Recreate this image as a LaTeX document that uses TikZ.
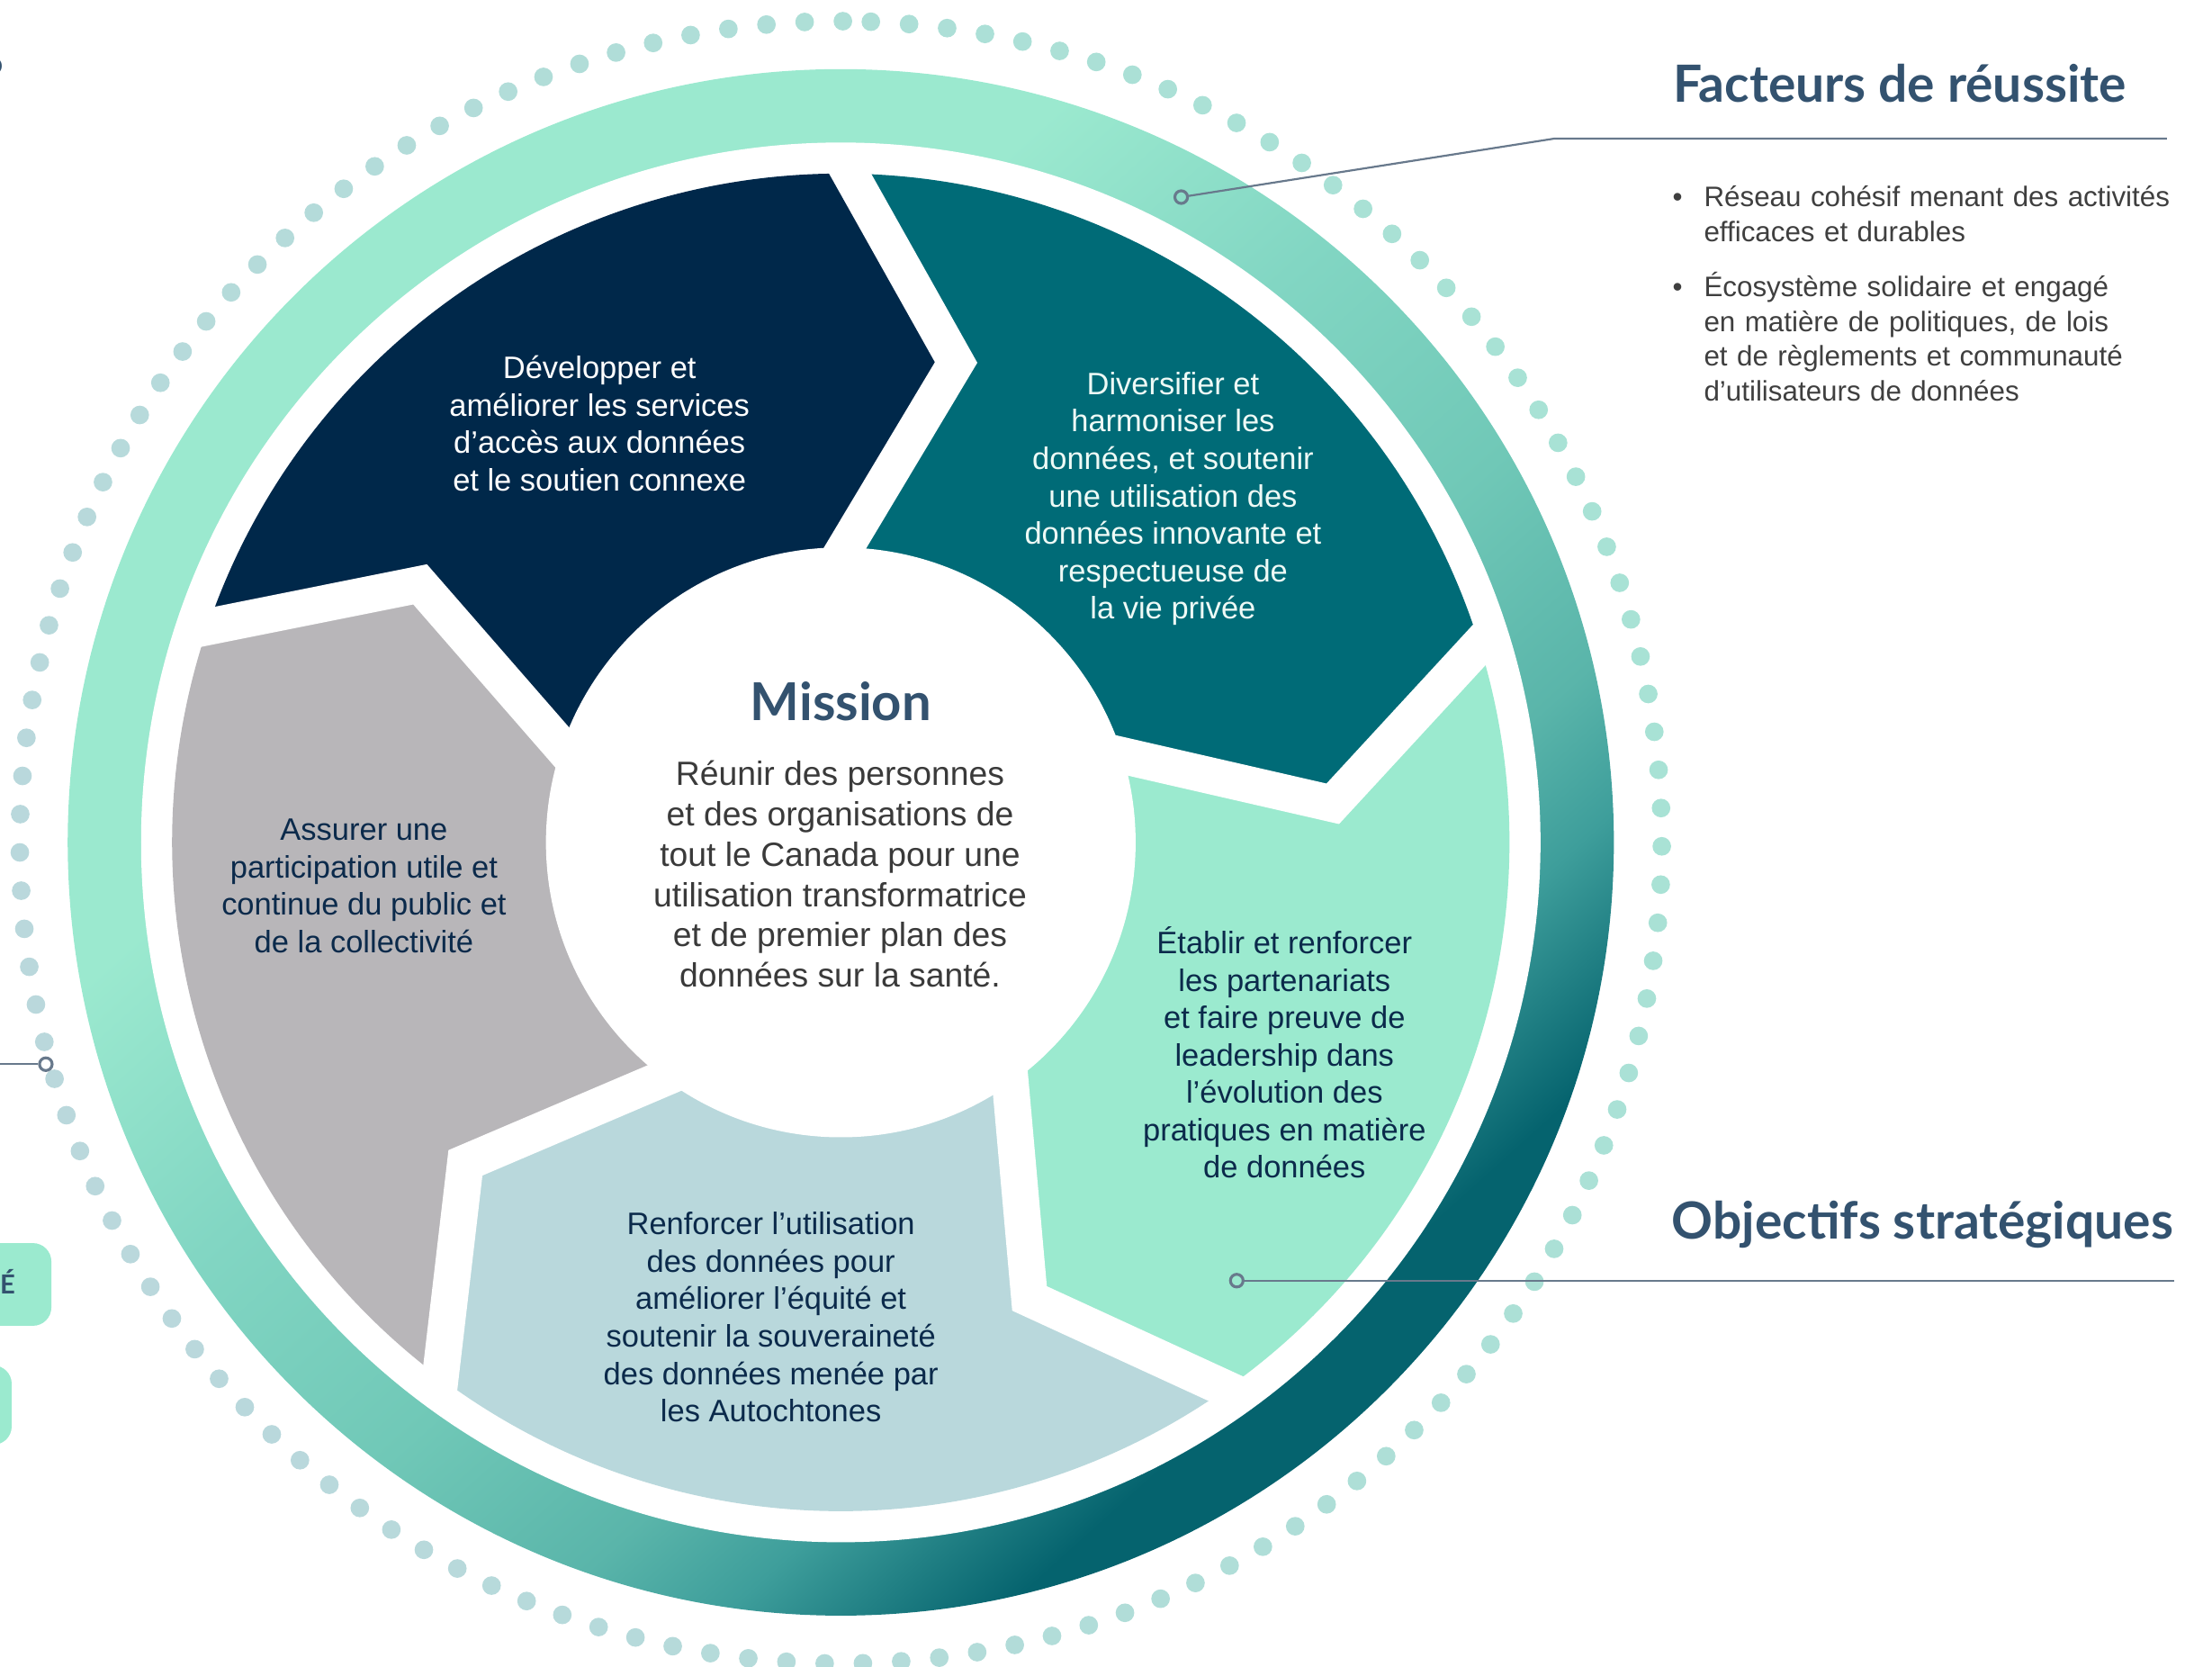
\documentclass[tikz,border=0pt]{standalone}
\usepackage{fontspec}
\setmainfont{Liberation Sans}
\newfontfamily\headfont{Lato}
\usetikzlibrary{calc}

\definecolor{navyseg}{HTML}{00284A}
\definecolor{tealseg}{HTML}{006B77}
\definecolor{mintseg}{HTML}{9BEACF}
\definecolor{blueseg}{HTML}{B9D8DC}
\definecolor{greyseg}{HTML}{B8B6B9}
\definecolor{headcol}{HTML}{33526F}
\definecolor{darktxt}{HTML}{0B2A4B}
\definecolor{paletxt}{HTML}{EEFAF6}
\definecolor{misstxt}{HTML}{3A3A3A}
\definecolor{bulltxt}{HTML}{3F3F3F}
\definecolor{leadcol}{HTML}{68798C}
\definecolor{dotA}{HTML}{BAD8DC}
\definecolor{dotB}{HTML}{A8E2D5}
\definecolor{ringA}{HTML}{05636E}
\definecolor{ringB}{HTML}{3E9E9B}
\definecolor{ringC}{HTML}{5AB5AA}
\definecolor{ringD}{HTML}{70C8B7}
\definecolor{ringE}{HTML}{82D6C3}
\definecolor{ringF}{HTML}{9BE9CF}

\pgfdeclareverticalshading{ringshade}{100bp}{color(0bp)=(ringA); color(28bp)=(ringA);
  color(34bp)=(ringB); color(38bp)=(ringC); color(45bp)=(ringD);
  color(54bp)=(ringE); color(63bp)=(ringF); color(100bp)=(ringF)}

\begin{document}
\begin{tikzpicture}[x=1pt,y=1pt]
\tikzset{segtext/.style = {align=center, inner sep=0pt,
	font=\fontsize{22}{26.5}\selectfont}}
\tikzset{heading/.style = {anchor=base west, inner sep=0pt, text=headcol,
	font=\headfont\bfseries\fontsize{36.3}{44}\selectfont}}
\tikzset{bullettext/.style = {anchor=base west, inner sep=0pt, text=bulltxt,
	text width=350pt, align=left, font=\fontsize{20}{24.5}\selectfont}}
\tikzset{gapline/.style = {draw=white, line width=26pt, line join=miter}}
\tikzset{leadline/.style = {draw=leadcol, line width=1.4pt}}
\tikzset{leadcircle/.style = {shape=circle, draw=leadcol, line width=2pt,
	minimum size=9pt, inner sep=0pt}}
\useasboundingbox (-596,-584) rectangle (972,597);

% dotted circle
\foreach \k in {0,...,134}{
	\pgfmathsetmacro\ang{87.9-2.672*\k}
	\pgfmathsetmacro\mixv{50+50*cos(\ang-20)}
	\fill[dotB!\mixv!dotA] (\ang:582) circle[radius=6.6];
}

% ring
\shade[shading=ringshade, shading angle=42] (0,0) circle[radius=548];
\fill[white] (0,0) circle[radius=496];

% segments
\foreach \a/\col in {89.2/navyseg, 17.2/tealseg, -54.8/mintseg,
		-126.8/blueseg, -198.8/greyseg}{
	\pgfmathsetmacro\b{\a+72}
	\fill[\col] (\b:474) arc[start angle=\b, end angle=\a, radius=474]
		-- ([shift={(\a:341.25)}]\a-90:77) -- (\a:208.5) -- (\a:190)
		arc[start angle=\a, end angle=\b, radius=190] -- (\b:208.5)
		-- ([shift={(\b:341.25)}]\b-90:77) -- cycle;
}
\foreach \a in {89.2, 17.2, -54.8, -126.8, -198.8}{
	\coordinate (tip) at ([shift={(\a:341.25)}]\a-90:77);
	\draw[gapline] ($(tip)!1.08!(\a:474)$) -- (tip) -- ($(tip)!1.4!(\a:208.5)$);
}

% mission
\node[shape=circle, fill=white, minimum size=418pt, inner sep=0pt] (mission) at (0,0) {};
\node[inner sep=0pt, text=headcol, font=\headfont\bfseries\fontsize{37}{44}\selectfont]
	(misstitle) at (0,100) {Mission};
\node[align=center, inner sep=0pt, text=misstxt, font=\fontsize{23.8}{28.6}\selectfont]
	(misstext) at (-0.5,-22.5) {Réunir des personnes\\et des organisations de\\tout le Canada pour une\\utilisation transformatrice\\et de premier plan des\\données sur la santé.};

% objectives
\node[segtext, text=white] (develop) at (-171,297)
	{Développer et\\améliorer les services\\d’accès aux données\\et le soutien connexe};
\node[segtext, text=paletxt] (diversify) at (235.5,243.5)
	{Diversifier et\\harmoniser les\\données, et soutenir\\une utilisation des\\données innovante et\\respectueuse de\\la vie privée};
\node[segtext, text=darktxt] (partner) at (314.5,-149)
	{Établir et renforcer\\les partenariats\\et faire preuve de\\leadership dans\\l’évolution des\\pratiques en matière\\de données};
\node[segtext, text=darktxt] (equity) at (-49.5,-336.5)
	{Renforcer l’utilisation\\des données pour\\améliorer l’équité et\\soutenir la souveraineté\\des données menée par\\les Autochtones};
\node[segtext, text=darktxt] (public) at (-338,-31)
	{Assurer une\\participation utile et\\continue du public et\\de la collectivité};

% right side
\node[heading] (factors) at (590,524.7) {Facteurs de réussite};
\node[heading] (goals) at (589,-280.8) {Objectifs stratégiques};
\node[anchor=base west, inner sep=0pt, text=bulltxt, font=\fontsize{20}{24.5}\selectfont]
	(dot1) at (589.5,450.3) {•};
\node[bullettext] (fac1) at (611.7,450.3) {Réseau cohésif menant des activités\\efficaces et durables};
\node[anchor=base west, inner sep=0pt, text=bulltxt, font=\fontsize{20}{24.5}\selectfont]
	(dot2) at (589.5,386.5) {•};
\node[bullettext] (fac2) at (611.7,386.5) {Écosystème solidaire et engagé\\en matière de politiques, de lois\\et de règlements et communauté\\d’utilisateurs de données};

% left side
\node[heading, anchor=base east] (qmark) at (-593,530) {?};
\fill[mintseg, rounded corners=13pt] (-640,-284) rectangle (-559.6,-342.6);
\fill[mintseg, rounded corners=13pt] (-640,-370.7) rectangle (-587.7,-426.9);
\node[anchor=base east, inner sep=0pt, text=headcol,
	font=\headfont\bfseries\fontsize{18.6}{22}\selectfont] (tagE) at (-585,-320) {É};

% leaders
\node[leadcircle] (facmark) at (241.3,457.3) {};
\coordinate (facknee) at (506,498.8);
\coordinate (facend) at (940,498.8);
\draw[leadline] (facmark) -- (facknee) -- (facend);
\node[leadcircle] (goalmark) at (280.7,-310.6) {};
\coordinate (goalend) at (945,-310.6);
\draw[leadline] (goalmark) -- (goalend);
\node[leadcircle] (leftmark) at (-563.5,-157.2) {};
\coordinate (leftend) at (-600,-157.2);
\draw[leadline] (leftmark) -- (leftend);
\end{tikzpicture}
\end{document}
